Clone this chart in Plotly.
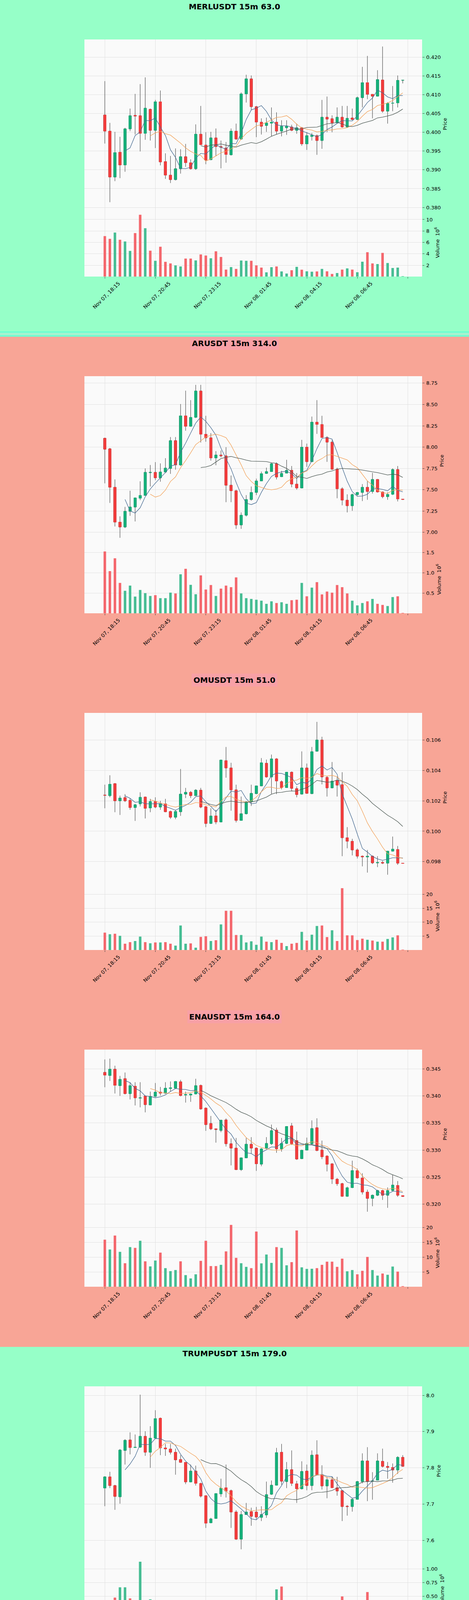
import plotly.graph_objects as go
import pandas as pd

# ---------------- data ----------------
tick_positions = [0, 10, 20, 30, 40, 50]
tick_labels = ["Nov 07, 18:15", "Nov 07, 20:45", "Nov 07, 23:15",
               "Nov 08, 01:45", "Nov 08, 04:15", "Nov 08, 06:45"]
extra_tick_positions = [60]   # unlabeled tick / gridline past the last candle

titles = ["MERLUSDT 15m 63.0", "ARUSDT 15m 314.0", "OMUSDT 15m 51.0",
          "ENAUSDT 15m 164.0", "TRUMPUSDT 15m 179.0"]

# MERLUSDT
merl_open = [.4046, .4003, .3881, .3947, .3913, .4009, .4045, .4044, .3997, .4061,
             .4005, .4081, .3922, .3886, .3874, .3903, .3935, .3919, .3903, .3995,
             .3966, .3927, .3985, .3962, .3958, .3940, .4003, .3982, .4102, .4142,
             .4068, .4027, .4018, .4024, .4027, .4003, .4012, .4014, .4005, .4012,
             .3969, .3989, .3991, .3978, .4040, .4036, .4025, .4040, .4014, .4038,
             .4034, .4092, .4132, .4101, .4096, .4139, .4056, .4077, .4078, .4138]
merl_high = [.4136, .4025, .4001, .3988, .4012, .4063, .4102, .4128, .4146, .4063,
             .4086, .4111, .3944, .3937, .3957, .3955, .3969, .3928, .4021, .4070,
             .4000, .4001, .4010, .3978, .3974, .4010, .4023, .4106, .4153, .4151,
             .4070, .4037, .4039, .4066, .4053, .4032, .4032, .4020, .4023, .4014,
             .4000, .3998, .3994, .4086, .4095, .4045, .4066, .4070, .4070, .4063,
             .4095, .4174, .4203, .4101, .4165, .4228, .4080, .4123, .4151, .4139]
merl_low = [.3970, .3814, .3870, .3878, .3895, .4003, .3994, .3949, .3980, .3978,
            .3958, .3912, .3876, .3865, .3872, .3890, .3908, .3901, .3900, .3966,
            .3915, .3926, .3937, .3904, .3919, .3938, .3980, .3980, .4079, .4059,
            .3987, .3994, .4001, .3989, .3994, .3989, .3993, .4003, .3996, .3964,
            .3953, .3978, .3940, .3956, .4000, .4000, .4023, .4012, .4012, .4032,
            .4032, .4066, .4088, .4037, .4095, .4052, .4023, .4056, .4066, .4130]
merl_close = [.4003, .3881, .3946, .3913, .4009, .4044, .4043, .3997, .4064, .4005,
              .4081, .3921, .3886, .3874, .3903, .3935, .3919, .3903, .3995, .3967,
              .3926, .3985, .3962, .3960, .3941, .4003, .3982, .4102, .4142, .4068,
              .4027, .4016, .4025, .4027, .4003, .4016, .4016, .4005, .4012, .3969,
              .3991, .3992, .3978, .4040, .4035, .4025, .4040, .4014, .4037, .4034,
              .4092, .4132, .4101, .4096, .4140, .4056, .4077, .4078, .4138, .41385]
merl_vol = [7.10, 6.62, 7.72, 6.46, 6.16, 4.51, 7.63, 10.83, 8.48, 4.55,
            2.78, 5.24, 2.60, 2.32, 1.98, 1.79, 3.17, 3.17, 2.85, 3.89,
            3.70, 3.22, 4.44, 3.45, 1.24, 1.68, 1.36, 2.83, 2.78, 2.78,
            1.98, 1.59, 0.76, 1.66, 1.79, 0.92, 0.55, 1.13, 1.72, 1.22,
            0.94, 0.87, 0.92, 1.36, 0.94, 0.48, 0.64, 1.24, 1.45, 1.24,
            0.78, 2.62, 4.28, 2.32, 2.21, 4.16, 2.39, 1.52, 1.59, 0.07]

# ARUSDT
ar_open = [8.104, 7.980, 7.529, 7.120, 7.063, 7.247, 7.297, 7.400, 7.433, 7.700,
           7.704, 7.640, 7.708, 7.750, 8.076, 7.790, 8.367, 8.244, 8.349, 8.658,
           8.151, 8.109, 7.873, 7.907, 7.897, 7.553, 7.488, 7.087, 7.201, 7.385,
           7.468, 7.603, 7.691, 7.713, 7.805, 7.652, 7.695, 7.728, 7.566, 7.520,
           8.000, 7.829, 8.293, 8.266, 8.113, 8.058, 7.741, 7.511, 7.378, 7.312,
           7.443, 7.468, 7.529, 7.479, 7.621, 7.474, 7.418, 7.446, 7.737, 7.391]
ar_high = [8.110, 7.990, 7.621, 7.188, 7.299, 7.488, 7.410, 7.599, 7.750, 7.790,
           7.824, 7.809, 7.870, 8.118, 8.118, 8.505, 8.662, 8.551, 8.730, 8.730,
           8.367, 8.164, 7.953, 7.960, 7.999, 7.667, 7.500, 7.234, 7.437, 7.538,
           7.630, 7.713, 7.759, 7.814, 7.820, 7.722, 7.851, 7.778, 7.695, 8.085,
           8.041, 8.358, 8.551, 8.367, 8.128, 8.082, 7.759, 7.529, 7.446, 7.455,
           7.474, 7.566, 7.603, 7.698, 7.625, 7.480, 7.470, 7.750, 7.778, 7.393]
ar_low = [7.575, 7.345, 7.069, 6.936, 7.050, 7.194, 7.128, 7.378, 7.430, 7.538,
          7.612, 7.594, 7.695, 7.686, 7.735, 7.778, 8.192, 8.238, 8.340, 8.054,
          8.063, 7.842, 7.787, 7.879, 7.354, 7.354, 7.041, 7.041, 7.186, 7.372,
          7.437, 7.600, 7.686, 7.710, 7.621, 7.648, 7.692, 7.529, 7.501, 7.515,
          7.768, 7.825, 8.155, 8.110, 7.827, 7.732, 7.400, 7.317, 7.234, 7.253,
          7.428, 7.367, 7.382, 7.455, 7.465, 7.400, 7.382, 7.437, 7.363, 7.383]
ar_close = [7.975, 7.529, 7.120, 7.063, 7.247, 7.297, 7.404, 7.433, 7.704, 7.704,
            7.640, 7.708, 7.754, 8.076, 7.790, 8.367, 8.244, 8.349, 8.658, 8.151,
            8.109, 7.873, 7.907, 7.897, 7.553, 7.488, 7.087, 7.201, 7.385, 7.468,
            7.603, 7.689, 7.713, 7.805, 7.649, 7.691, 7.728, 7.566, 7.520, 8.000,
            7.829, 8.293, 8.266, 8.113, 8.058, 7.741, 7.511, 7.378, 7.312, 7.443,
            7.468, 7.529, 7.479, 7.621, 7.474, 7.418, 7.446, 7.737, 7.391, 7.385]
ar_vol = [1.527, 1.043, 1.360, 0.752, 0.558, 0.686, 0.415, 0.578, 0.500, 0.430,
          0.450, 0.376, 0.376, 0.512, 0.492, 0.965, 1.100, 0.705, 0.473, 0.938,
          0.589, 0.700, 0.430, 0.612, 0.686, 0.647, 0.888, 0.492, 0.376, 0.357,
          0.337, 0.314, 0.236, 0.298, 0.256, 0.275, 0.236, 0.326, 0.337, 0.752,
          0.422, 0.636, 0.771, 0.469, 0.539, 0.512, 0.700, 0.647, 0.492, 0.314,
          0.198, 0.256, 0.298, 0.357, 0.236, 0.209, 0.182, 0.403, 0.422, 0.010]

# OMUSDT
om_open = [.10238, .10234, .10313, .10200, .10221, .10203, .10156, .10180, .10225, .10153,
           .10195, .10159, .10180, .10130, .10092, .10128, .10244, .10256, .10234, .10270,
           .10161, .10051, .10101, .10061, .10464, .10416, .10272, .10071, .10115, .10194,
           .10247, .10298, .10447, .10357, .10476, .10326, .10287, .10388, .10280, .10244,
           .10416, .10247, .10526, .10600, .10354, .10285, .10335, .10306, .09957, .09934,
           .09877, .09836, .09831, .09836, .09792, .09795, .09790, .09869, .09880, .09790]
om_high = [.10306, .10368, .10316, .10234, .10244, .10215, .10180, .10256, .10228, .10213,
           .10223, .10200, .10213, .10135, .10141, .10409, .10285, .10264, .10277, .10285,
           .10166, .10151, .10141, .10471, .10554, .10450, .10306, .10228, .10197, .10306,
           .10298, .10481, .10471, .10504, .10481, .10334, .10390, .10393, .10295, .10525,
           .10445, .10554, .10719, .10621, .10362, .10455, .10357, .10388, .10027, .09950,
           .09887, .09841, .09877, .09841, .09836, .09805, .09869, .09965, .09903, .09791]
om_low = [.10151, .10223, .10125, .10107, .10192, .10141, .10068, .10163, .10084, .10125,
          .10151, .10141, .10125, .10081, .10079, .10101, .10218, .10218, .10234, .10151,
          .10027, .10048, .10046, .10058, .10352, .10135, .10058, .10070, .10110, .10166,
          .10244, .10296, .10352, .10246, .10244, .10275, .10285, .10264, .10223, .10241,
          .10246, .10244, .10523, .10308, .10228, .10282, .10228, .09836, .09888, .09841,
          .09821, .09769, .09728, .09784, .09764, .09784, .09714, .09867, .09779, .09787]
om_close = [.10236, .10309, .10200, .10218, .10200, .10156, .10174, .10223, .10151, .10195,
            .10159, .10180, .10128, .10092, .10130, .10244, .10256, .10234, .10270, .10159,
            .10051, .10100, .10061, .10468, .10416, .10272, .10071, .10115, .10194, .10249,
            .10298, .10450, .10357, .10476, .10330, .10287, .10388, .10282, .10241, .10416,
            .10249, .10523, .10600, .10357, .10285, .10330, .10303, .09957, .09934, .09877,
            .09836, .09831, .09836, .09792, .09795, .09790, .09869, .09883, .09790, .09788]
om_vol = [6.25, 5.68, 5.85, 5.11, 2.27, 2.84, 3.24, 4.83, 2.84, 2.44,
          2.73, 2.73, 2.84, 2.27, 1.59, 8.81, 2.27, 2.39, 0.85, 4.72,
          4.94, 3.24, 3.52, 9.20, 14.1, 14.1, 5.40, 5.40, 2.73, 3.13,
          1.88, 4.83, 3.01, 2.84, 3.69, 2.56, 1.42, 2.27, 2.56, 6.53,
          3.41, 5.51, 8.64, 8.81, 4.66, 7.10, 3.24, 22.2, 5.28, 5.28,
          3.58, 4.09, 3.69, 3.41, 3.01, 3.01, 3.98, 4.55, 5.28, 0.05]

# ENAUSDT
ena_open = [.34436, .34378, .34494, .34190, .34320, .34042, .34181, .33958, .34000, .33833,
            .33992, .34071, .34050, .34137, .34143, .34262, .34016, .34016, .34036, .34196,
            .33775, .33491, .33392, .33363, .33557, .33117, .33036, .32638, .32856, .33108,
            .33036, .32740, .33036, .33117, .33369, .33021, .33123, .33447, .33175, .32841,
            .32998, .33117, .33413, .33001, .32890, .32746, .32464, .32380, .32145, .32305,
            .32621, .32485, .32224, .32107, .32165, .32252, .32165, .32252, .32348, .32160]
ena_high = [.34674, .34689, .34558, .34370, .34433, .34254, .34254, .34254, .34010, .34080,
            .34239, .34166, .34254, .34268, .34277, .34297, .34080, .34045, .34317, .34210,
            .33790, .33630, .33400, .33563, .33585, .33215, .33224, .32862, .33224, .33239,
            .33050, .33036, .33239, .33471, .33413, .33224, .33442, .33500, .33340, .33007,
            .33230, .33549, .33587, .33175, .32905, .32760, .32484, .32394, .32325, .32804,
            .32659, .32572, .32267, .32180, .32267, .32267, .32310, .32542, .32427, .32162]
ena_low = [.34161, .34277, .34045, .34001, .34030, .33935, .33824, .33790, .33697, .33830,
           .33980, .34007, .34036, .34079, .34131, .33992, .33877, .33891, .34027, .33746,
           .33355, .33369, .33137, .33330, .33065, .32717, .32630, .32615, .32850, .32934,
           .32615, .32702, .33021, .33094, .32949, .32970, .33108, .33094, .32818, .32833,
           .32990, .33094, .32978, .32833, .32606, .32374, .32340, .32136, .32136, .32296,
           .32470, .32180, .31861, .31962, .32150, .32079, .31933, .32238, .32136, .32140]
ena_close = [.34384, .34494, .34196, .34306, .34042, .34190, .33964, .33967, .33839, .33992,
             .34071, .34050, .34143, .34152, .34268, .34007, .34027, .34036, .34190, .33760,
             .33470, .33392, .33378, .33552, .33117, .33036, .32638, .32856, .33108, .33036,
             .32746, .33021, .33123, .33360, .33021, .33123, .33436, .33117, .32833, .32998,
             .33123, .33398, .32992, .32876, .32737, .32464, .32377, .32145, .32305, .32621,
             .32485, .32224, .32107, .32165, .32252, .32165, .32252, .32354, .32165, .32142]
ena_vol = [15.96, 12.65, 17.35, 11.85, 8.01, 13.45, 13.19, 15.59, 8.65, 6.94,
           8.92, 11.59, 6.35, 5.34, 5.71, 8.65, 4.00, 2.88, 4.27, 8.81,
           15.59, 7.05, 7.05, 7.47, 12.01, 20.93, 9.82, 8.01, 6.78, 6.35,
           18.69, 7.96, 10.95, 8.12, 13.45, 13.19, 7.31, 8.38, 19.06, 6.62,
           6.09, 6.14, 6.35, 7.47, 8.54, 8.54, 6.78, 9.56, 5.29, 5.71,
           4.27, 5.45, 10.14, 5.71, 3.84, 4.54, 4.11, 6.89, 5.18, 0.27]

# TRUMPUSDT
trump_open = [7.744, 7.775, 7.751, 7.720, 7.848, 7.877, 7.856, 7.857, 7.887, 7.843,
              7.882, 7.937, 7.855, 7.852, 7.843, 7.823, 7.815, 7.761, 7.791, 7.757,
              7.723, 7.648, 7.660, 7.728, 7.745, 7.737, 7.678, 7.603, 7.671, 7.679,
              7.678, 7.663, 7.670, 7.727, 7.752, 7.843, 7.762, 7.795, 7.756, 7.742,
              7.791, 7.751, 7.836, 7.781, 7.750, 7.767, 7.745, 7.737, 7.694, 7.693,
              7.713, 7.762, 7.819, 7.763, 7.766, 7.818, 7.804, 7.801, 7.794, 7.829]
trump_high = [7.777, 7.789, 7.753, 7.852, 7.879, 7.898, 7.892, 8.002, 7.901, 7.915,
              7.959, 7.939, 7.866, 7.866, 7.853, 7.835, 7.816, 7.809, 7.806, 7.759,
              7.724, 7.662, 7.730, 7.770, 7.809, 7.740, 7.683, 7.681, 7.703, 7.690,
              7.692, 7.694, 7.762, 7.765, 7.855, 7.866, 7.816, 7.848, 7.764, 7.818,
              7.809, 7.848, 7.876, 7.807, 7.775, 7.776, 7.775, 7.738, 7.697, 7.716,
              7.764, 7.840, 7.857, 7.788, 7.840, 7.853, 7.816, 7.812, 7.832, 7.835]
trump_low = [7.694, 7.744, 7.684, 7.701, 7.809, 7.837, 7.855, 7.855, 7.833, 7.800,
             7.880, 7.835, 7.833, 7.837, 7.781, 7.814, 7.755, 7.760, 7.751, 7.718,
             7.634, 7.647, 7.659, 7.720, 7.718, 7.634, 7.601, 7.575, 7.670, 7.640,
             7.658, 7.653, 7.662, 7.725, 7.751, 7.753, 7.744, 7.750, 7.703, 7.740,
             7.738, 7.738, 7.779, 7.740, 7.716, 7.744, 7.723, 7.653, 7.668, 7.679,
             7.712, 7.757, 7.708, 7.712, 7.765, 7.801, 7.770, 7.759, 7.783, 7.803]
trump_close = [7.775, 7.751, 7.721, 7.849, 7.876, 7.856, 7.857, 7.887, 7.843, 7.882,
               7.936, 7.855, 7.852, 7.843, 7.822, 7.815, 7.761, 7.791, 7.757, 7.722,
               7.647, 7.659, 7.729, 7.744, 7.736, 7.678, 7.603, 7.671, 7.678, 7.666,
               7.664, 7.671, 7.726, 7.752, 7.842, 7.763, 7.795, 7.757, 7.742, 7.790,
               7.751, 7.835, 7.781, 7.750, 7.767, 7.745, 7.736, 7.693, 7.693, 7.713,
               7.762, 7.819, 7.762, 7.764, 7.819, 7.804, 7.801, 7.794, 7.829, 7.804]
trump_vol = [0.384, 0.398, 0.479, 0.665, 0.665, 0.464, 0.327, 1.129, 0.341, 0.447,
             0.327, 0.398, 0.241, 0.269, 0.398, 0.221, 0.269, 0.203, 0.126, 0.284,
             0.361, 0.146, 0.169, 0.307, 0.327, 0.370, 0.370, 0.321, 0.221, 0.163,
             0.146, 0.175, 0.341, 0.221, 0.628, 0.679, 0.255, 0.347, 0.347, 0.312,
             0.175, 0.192, 0.212, 0.249, 0.221, 0.249, 0.206, 0.499, 0.332, 0.198,
             0.178, 0.427, 0.579, 0.255, 0.246, 0.255, 0.178, 0.192, 0.235, 0.034]

ma_windows = [5, 10, 20]

# ---------------- style ----------------
FIG_W, FIG_H, PANEL_H = 1200, 4310, 862
GREEN_BG, RED_BG = "#96FFC8", "#F8A596"
UP, DOWN = "#16b07a", "#f23c3c"
VOL_UP, VOL_DOWN = "#46bd93", "#f4676d"
MA_COLORS = ["#456a91", "#f3a25a", "#4e5a55"]
GRID = "#e0e0e0"
FONT = "DejaVu Sans"
X_DOMAIN = [216 / FIG_W, 1080 / FIG_W]
X_RANGE = [-4.04, 62.83]

panels = [
    dict(o=merl_open, h=merl_high, l=merl_low, c=merl_close, v=merl_vol, bg=GREEN_BG, tbg=None,
         yr=[0.3797, 0.42468], dt=0.005, fmt=".3f", vdt=2, vfmt="d"),
    dict(o=ar_open, h=ar_high, l=ar_low, c=ar_close, v=ar_vol, bg=RED_BG, tbg="#f8a0a6",
         yr=[6.848, 8.832], dt=0.25, fmt=".2f", vdt=0.5, vfmt=".1f"),
    dict(o=om_open, h=om_high, l=om_low, c=om_close, v=om_vol, bg=RED_BG, tbg="#f8a0a6",
         yr=[0.09666, 0.10778], dt=0.002, fmt=".3f", vdt=5, vfmt="d"),
    dict(o=ena_open, h=ena_high, l=ena_low, c=ena_close, v=ena_vol, bg=RED_BG, tbg="#f8a0a6",
         yr=[0.31731, 0.34856], dt=0.005, fmt=".3f", vdt=5, vfmt="d"),
    dict(o=trump_open, h=trump_high, l=trump_low, c=trump_close, v=trump_vol, bg=GREEN_BG, tbg=None,
         yr=[7.558, 8.025], dt=0.1, fmt=".1f", vdt=0.25, vfmt=".2f"),
]


def yp(px):
    return 1 - px / FIG_H


fig = go.Figure()
layout = dict(width=FIG_W, height=FIG_H, autosize=False,
              margin=dict(l=0, r=0, t=0, b=0, pad=0, autoexpand=False),
              paper_bgcolor=GREEN_BG, plot_bgcolor="rgba(0,0,0,0)",
              showlegend=False, boxgap=0.3, boxmode="overlay",
              font=dict(family=FONT, size=13, color="black"))
shapes, annotations = [], []

for k, p in enumerate(panels):
    P = PANEL_H * k
    n_idx = len(p["c"])
    xs = list(range(n_idx))
    pa, va = 2 * k + 1, 2 * k + 2
    px_id, py_id = ("x" if pa == 1 else f"x{pa}"), ("y" if pa == 1 else f"y{pa}")
    vx_id, vy_id = f"x{va}", f"y{va}"

    # backgrounds
    shapes.append(dict(type="rect", xref="paper", yref="paper", x0=0, x1=1,
                       y0=yp(P + PANEL_H), y1=yp(P), fillcolor=p["bg"],
                       line=dict(width=0), layer="below"))
    shapes.append(dict(type="rect", xref="paper", yref="paper", x0=X_DOMAIN[0], x1=X_DOMAIN[1],
                       y0=yp(P + 708), y1=yp(P + 101), fillcolor="#FAFAFA",
                       line=dict(width=0), layer="below"))

    # title
    ann = dict(x=0.5, y=yp(P + 17), xref="paper", yref="paper", xanchor="center", yanchor="middle",
               text=f"<b>{titles[k]}</b>", showarrow=False,
               font=dict(family=FONT, size=20, color="black"), borderpad=4)
    if p["tbg"]:
        ann["bgcolor"] = p["tbg"]
    annotations.append(ann)

    o, h, l, c, v = p["o"], p["h"], p["l"], p["c"], p["v"]
    body_hi = [max(a, b) for a, b in zip(o, c)]
    body_lo = [min(a, b) for a, b in zip(o, c)]

    # wicks (full OHLC, dark)
    fig.add_trace(go.Candlestick(
        x=xs, open=o, high=h, low=l, close=c, xaxis=px_id, yaxis=py_id,
        increasing=dict(line=dict(color="#2b2b2b", width=1), fillcolor="#2b2b2b"),
        decreasing=dict(line=dict(color="#2b2b2b", width=1), fillcolor="#2b2b2b"),
        whiskerwidth=0, hoverinfo="skip", showlegend=False))
    # coloured bodies
    fig.add_trace(go.Candlestick(
        x=xs, open=o, high=body_hi, low=body_lo, close=c, xaxis=px_id, yaxis=py_id,
        increasing=dict(line=dict(color=UP, width=1), fillcolor=UP),
        decreasing=dict(line=dict(color=DOWN, width=1), fillcolor=DOWN),
        whiskerwidth=0, showlegend=False))

    # moving averages
    closes = pd.Series(c)
    for w, col in zip(ma_windows, MA_COLORS):
        ma = closes.rolling(w).mean()
        fig.add_trace(go.Scatter(x=xs, y=ma.tolist(), mode="lines", xaxis=px_id, yaxis=py_id,
                                 line=dict(color=col, width=1.3), hoverinfo="skip",
                                 showlegend=False, connectgaps=False))

    # volume
    vcols = [VOL_UP if cc >= oo else VOL_DOWN for oo, cc in zip(o, c)]
    fig.add_trace(go.Bar(x=xs, y=v, width=0.5, marker=dict(color=vcols, line=dict(width=0)),
                         xaxis=vx_id, yaxis=vy_id, showlegend=False))

    price_dom = [yp(P + 534), yp(P + 101)]
    vol_dom = [yp(P + 708), yp(P + 534)]

    common_x = dict(domain=X_DOMAIN, range=X_RANGE, tickmode="array",
                    tickvals=tick_positions, ticktext=tick_labels, automargin=False,
                    showgrid=True, gridcolor=GRID, gridwidth=1.2, zeroline=False,
                    showline=False, rangeslider=dict(visible=False))
    layout["xaxis" if pa == 1 else f"xaxis{pa}"] = dict(
        common_x, anchor=py_id, showticklabels=False, ticks="",
        minor=dict(tickmode="array", tickvals=extra_tick_positions, showgrid=True,
                   gridcolor=GRID, gridwidth=1.2, ticks=""))
    layout[f"xaxis{va}"] = dict(
        common_x, anchor=vy_id, showticklabels=True, ticks="outside", ticklen=4,
        tickcolor="#444", tickangle=-45, ticklabelshift=35,
        tickfont=dict(family=FONT, size=13, color="black"),
        minor=dict(tickmode="array", tickvals=extra_tick_positions, showgrid=True,
                   gridcolor=GRID, gridwidth=1.2, ticks="outside", ticklen=4, tickcolor="#444"))

    layout["yaxis" if pa == 1 else f"yaxis{pa}"] = dict(
        domain=price_dom, range=p["yr"], anchor=px_id, side="right", automargin=False,
        tick0=0, dtick=p["dt"], tickformat=p["fmt"], showgrid=True, gridcolor=GRID,
        gridwidth=1.2, zeroline=False, showline=False, ticks="outside", ticklen=5,
        ticklabelstandoff=2,
        tickcolor="#444", tickfont=dict(family=FONT, size=13, color="black"),
        title=dict(text="Price", font=dict(family=FONT, size=13, color="black"), standoff=7))
    vmax = max(v)
    vmin = min(v)
    layout[f"yaxis{va}"] = dict(
        domain=vol_dom, range=[0.3 * vmin, 1.1 * vmax], anchor=vx_id, side="right",
        automargin=False, ticklabelstandoff=2,
        tick0=0, dtick=p["vdt"], tickformat=p["vfmt"], showgrid=True, gridcolor=GRID,
        gridwidth=1.2, zeroline=False, showline=False, ticks="outside", ticklen=5,
        tickcolor="#444", tickfont=dict(family=FONT, size=13, color="black"),
        title=dict(text="Volume  10<sup>6</sup>", font=dict(family=FONT, size=13, color="black"),
                   standoff=8))

# thin light stripe at bottom of first panel
for y0, y1, col in [(848, 852, "#6effd0"), (852, 858, "#a6f3cf"), (858, 862, "#6effd0")]:
    shapes.append(dict(type="rect", xref="paper", yref="paper", x0=0, x1=1,
                       y0=yp(y1), y1=yp(y0), fillcolor=col, line=dict(width=0), layer="below"))

layout["shapes"] = shapes
layout["annotations"] = annotations
fig.update_layout(**layout)
fig.write_html("out.html", config={"displayModeBar": False},
               post_script="document.body.style.margin='0px';document.body.style.padding='0px';")
